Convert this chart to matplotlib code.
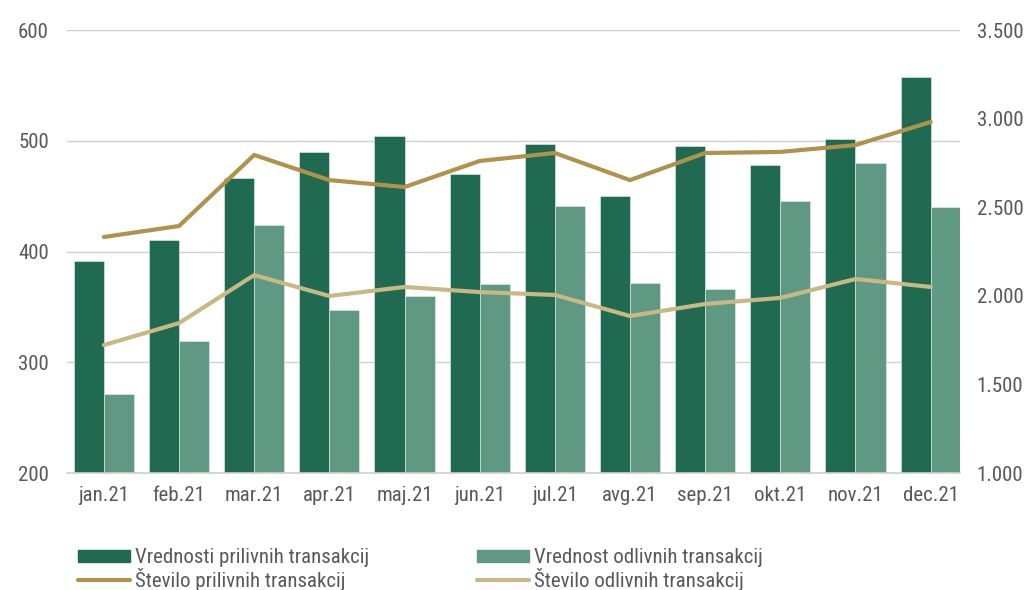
import matplotlib
matplotlib.use("Agg")
import matplotlib.pyplot as plt
import numpy as np
from matplotlib.patches import Patch
from matplotlib.lines import Line2D
from matplotlib.ticker import FuncFormatter

months = ["jan.21", "feb.21", "mar.21", "apr.21", "maj.21", "jun.21",
          "jul.21", "avg.21", "sep.21", "okt.21", "nov.21", "dec.21"]
vred_priliv = [391, 410, 466, 490, 504, 470, 497, 450, 495, 478, 502, 558]
vred_odliv = [271, 319, 424, 347, 360, 371, 441, 372, 366, 446, 480, 440]
stev_priliv = [2332, 2394, 2795, 2653, 2614, 2761, 2806, 2653, 2806, 2812, 2851, 2981]
stev_odliv = [1722, 1846, 2117, 1999, 2050, 2021, 2005, 1886, 1954, 1988, 2095, 2050]

labels = ["Vrednosti prilivnih transakcij", "Vrednost odlivnih transakcij",
          "Število prilivnih transakcij", "Število odlivnih transakcij"]

c_dark = "#1F6A50"
c_light = "#5F9883"
c_gold = "#B0924C"
c_gold2 = "#C8B886"
txt = "#595959"
fs = 15

plt.rcParams['font.family'] = ['Roboto Condensed', 'Liberation Sans', 'DejaVu Sans']

fig = plt.figure(figsize=(10.33, 5.90), dpi=100)
ax = fig.add_axes([0.0649, 0.1983, 0.8644, 0.7508])
ax2 = ax.twinx()

x = np.arange(len(months))
w = 0.4
ax.bar(x - w/2, vred_priliv, w, color=c_dark, edgecolor="#E8F0EC", linewidth=0.4, zorder=2)
ax.bar(x + w/2, vred_odliv, w, color=c_light, edgecolor="#E8F0EC", linewidth=0.4, zorder=2)
ax.set_ylim(200, 600)
ax.set_yticks([200, 300, 400, 500, 600])
ax.set_xlim(-0.49, 11.39)
ax.set_xticks(x)
ax.set_xticklabels(months)
ax.grid(axis='y', color="#D0D0D0", linewidth=1, zorder=0)
ax.set_axisbelow(True)
for s in ["top", "right", "left"]:
    ax.spines[s].set_visible(False)
ax.spines["bottom"].set_color("#D0D0D0")
ax.spines["bottom"].set_linewidth(1.2)
ax.tick_params(axis='y', length=0, pad=13, labelsize=fs, labelcolor=txt)
ax.tick_params(axis='x', length=0, pad=9, labelsize=fs, labelcolor=txt)

ax2.plot(x, stev_priliv, color=c_gold, linewidth=3, solid_capstyle='round', zorder=3)
ax2.plot(x, stev_odliv, color=c_gold2, linewidth=3, solid_capstyle='round', zorder=3)
ax2.set_ylim(1000, 3500)
ax2.set_yticks([1000, 1500, 2000, 2500, 3000, 3500])
ax2.yaxis.set_major_formatter(FuncFormatter(lambda v, p: f"{int(v):,}".replace(",", ".")))
for s in ["top", "right", "left", "bottom"]:
    ax2.spines[s].set_visible(False)
ax2.tick_params(axis='y', length=0, pad=12, labelsize=fs, labelcolor=txt)

common = dict(loc='upper left', frameon=False, fontsize=fs, labelcolor=txt,
              handlelength=2.5, handleheight=0.5, handletextpad=0.25,
              labelspacing=0.05, borderpad=0, borderaxespad=0)
fig.legend([Patch(color=c_dark), Line2D([], [], color=c_gold, lw=3, solid_capstyle='round')],
           [labels[0], labels[2]], bbox_to_anchor=(78/1033, 0.071), **common)
fig.legend([Patch(color=c_light), Line2D([], [], color=c_gold2, lw=3, solid_capstyle='round')],
           [labels[1], labels[3]], bbox_to_anchor=(477/1033, 0.071), **common)

fig.savefig("out.png", dpi=100)
